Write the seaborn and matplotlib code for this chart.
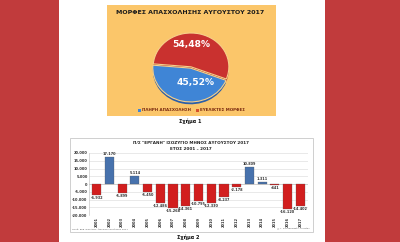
import matplotlib
matplotlib.use("Agg")
import matplotlib.pyplot as plt
import seaborn as sns
import pandas as pd
from matplotlib.patches import Rectangle

# ---- data ----
pie_labels = ["ΠΛΗΡΗ ΑΠΑΣΧΟΛΗΣΗ", "ΕΥΕΛΙΚΤΕΣ ΜΟΡΦΕΣ"]
pie_values = [45.52, 54.48]
pie_texts = ["45,52%", "54,48%"]

years = ["2001", "2002", "2003", "2004", "2005", "2006", "2007", "2008", "2009",
         "2010", "2011", "2012", "2013", "2014", "2015", "2016", "2017"]
balance = [-6932, 17170, -5899, 5114, -5450, -12486, -15268, -14361, -10795,
           -12330, -8237, -2178, 10809, 1311, -441, -16120, -14402]
yticks = [20000, 15000, 10000, 5000, 0, -5000, -10000, -15000, -20000]

sns.set_theme(style="white")
plt.rcParams['font.family'] = ['DejaVu Sans']

W, H = 400, 242
fig = plt.figure(figsize=(4.0, 2.42), dpi=100)
fig.patch.set_facecolor("#c13b3c")

def fx(x):
    return x / W

def fy(y):
    return 1 - y / H

def bg_rect(x0, y0, x1, y1, **kw):
    r = Rectangle((fx(x0), fy(y1)), fx(x1 - x0), (y1 - y0) / H,
                  transform=fig.transFigure, zorder=-5, **kw)
    fig.patches.append(r)
    return r

bg_rect(59, 0, 325, 242, facecolor="white", edgecolor="none")
bg_rect(107, 5, 276, 116, facecolor="#fbc66a", edgecolor="none")
bg_rect(70, 138, 313, 232, facecolor="white", edgecolor="#c8c8c8", linewidth=0.6)

# ---- pie ----
fig.text(fx(190), fy(13), "ΜΟΡΦΕΣ ΑΠΑΣΧΟΛΗΣΗΣ ΑΥΓΟΥΣΤΟΥ 2017", ha="center", va="center",
         fontsize=4.5, fontweight="bold", color="#1a1a1a")

pax = fig.add_axes([fx(152), fy(104), fx(230 - 152), (104 - 32) / H])
pax.pie(pie_values, colors=["#2a5ea8", "#9e2222"], startangle=175,
        explode=(0.04, 0), center=(0, -0.07), wedgeprops=dict(edgecolor="none"))
pax.pie(pie_values, colors=["#3f85d6", "#c9312f"], startangle=175,
        explode=(0.04, 0), center=(0, 0),
        wedgeprops=dict(edgecolor="#f7d08a", linewidth=0.8))
pax.set_aspect("auto")
pax.set_xlim(-1.03, 1.03)
pax.set_ylim(-1.1, 1.03)
pax.axis("off")
fig.text(fx(191), fy(45), pie_texts[1], ha="center", va="center", fontsize=6.6,
         fontweight="bold", color="white")
fig.text(fx(196), fy(82), pie_texts[0], ha="center", va="center", fontsize=6.6,
         fontweight="bold", color="white")

# legend
fig.patches.append(Rectangle((fx(138), fy(111.5)), fx(3), 3 / H, transform=fig.transFigure,
                             facecolor="#3f85d6", edgecolor="none", zorder=2))
fig.text(fx(142), fy(110), pie_labels[0], ha="left", va="center", fontsize=2.9,
         color="#7a2a10", fontweight="bold")
fig.patches.append(Rectangle((fx(196), fy(111.5)), fx(3), 3 / H, transform=fig.transFigure,
                             facecolor="#d4502a", edgecolor="none", zorder=2))
fig.text(fx(200), fy(110), pie_labels[1], ha="left", va="center", fontsize=2.9,
         color="#7a2a10", fontweight="bold")
fig.text(fx(190), fy(121), "Σχήμα 1", ha="center", va="center", fontsize=3.6,
         fontweight="bold", color="#111111")

# ---- bars ----
df = pd.DataFrame({"year": years, "value": balance})
df["sign"] = ["pos" if v > 0 else "neg" for v in balance]
bax = fig.add_axes([fx(89), fy(215), fx(308 - 89), (215 - 153) / H])
sns.barplot(data=df, x="year", y="value", hue="sign",
            palette={"pos": "#3670be", "neg": "#f00000"}, dodge=False,
            legend=False, width=0.72, edgecolor="#555555", linewidth=0.2, ax=bax)
bax.set_ylim(-20000, 20000)
bax.set_xlim(-0.6, len(years) - 0.4)
bax.set_yticks(yticks)
bax.set_yticklabels([f"{t:,}".replace(",", ".") for t in yticks], fontsize=2.6,
                    fontweight="bold", color="#333333")
bax.tick_params(axis="y", length=0, pad=1)
bax.tick_params(axis="x", length=0, pad=1.5)
bax.set_xticks(range(len(years)))
bax.set_xticklabels(years, rotation=90, fontsize=2.6, fontweight="bold", color="#333333")
bax.set_xlabel("")
bax.set_ylabel("")
bax.grid(axis="y", color="#d9d9d9", linewidth=0.4)
bax.set_axisbelow(True)
for s in ["top", "right", "bottom"]:
    bax.spines[s].set_visible(False)
bax.spines["left"].set_color("#bbbbbb")
bax.spines["left"].set_linewidth(0.4)
bax.axhline(0, color="#999999", linewidth=0.4, zorder=0)
bax.set_facecolor("none")
for i, v in enumerate(balance):
    txt = f"{v:,}".replace(",", ".")
    if v >= 0:
        bax.text(i, v + 600, txt, ha="center", va="bottom", fontsize=2.5,
                 fontweight="bold", color="#333333")
    else:
        bax.text(i, v - 600, txt, ha="center", va="top", fontsize=2.5,
                 fontweight="bold", color="#333333")

fig.text(fx(191), fy(142.5), "Π/Σ \"ΕΡΓΑΝΗ\" ΙΣΟΖΥΓΙΟ ΜΗΝΟΣ ΑΥΓΟΥΣΤΟΥ 2017", ha="center",
         va="center", fontsize=3.0, fontweight="bold", color="#222222")
fig.text(fx(191), fy(148.5), "ΕΤΟΣ 2001 – 2017", ha="center", va="center",
         fontsize=3.0, fontweight="bold", color="#222222")
fig.text(fx(72), fy(229), "Πηγή: ΕΣΕ \"ΕΡΓΑΝΗ\", Έκδοση Αυγούστου 2017", ha="left",
         va="center", fontsize=1.7, color="#555555")
fig.text(fx(310), fy(229), "@ Γ. Κουτσουμπός Ανδρέας", ha="right", va="center",
         fontsize=1.7, color="#555555")
fig.text(fx(188), fy(237.5), "Σχήμα 2", ha="center", va="center", fontsize=3.6,
         fontweight="bold", color="#111111")

fig.savefig("out.png", dpi=100, facecolor=fig.get_facecolor())
